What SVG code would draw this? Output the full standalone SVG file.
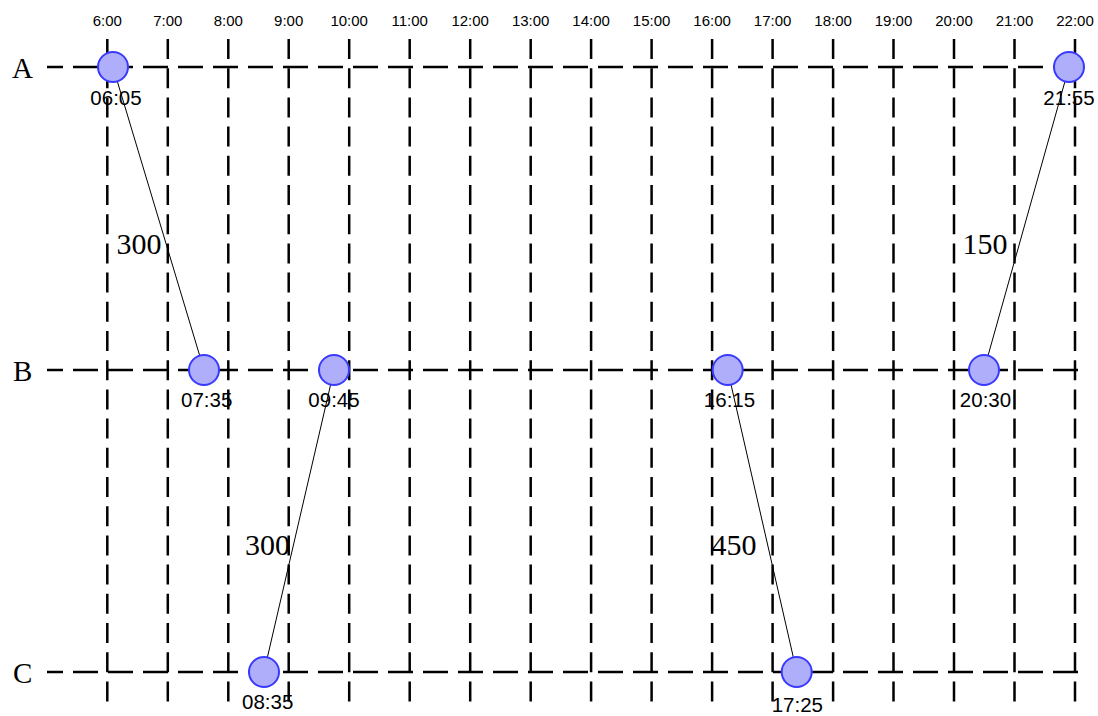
<svg xmlns="http://www.w3.org/2000/svg" width="1098" height="716" viewBox="0 0 1098 716">
<style>
.bg{fill:#ffffff}
.v{stroke:#000;stroke-width:2.5;stroke-dasharray:20 9.2;fill:none}
.h{stroke:#000;stroke-width:2.5;stroke-dasharray:25 10;stroke-dashoffset:9;fill:none}
.hr{font-family:"Liberation Sans",Arial,sans-serif;font-size:15px;text-anchor:middle;fill:#000}
.row{font-family:"Liberation Serif","Times New Roman",serif;font-size:29px;fill:#000}
.node circle{fill:#aeaefa;stroke:#3a3aff;stroke-width:2}
.node text{font-family:"Liberation Sans",Arial,sans-serif;font-size:20.5px;text-anchor:middle;fill:#000}
.edge line{stroke:#000;stroke-width:1}
.edge text{font-family:"Liberation Serif","Times New Roman",serif;font-size:30px;fill:#000}
</style>
<rect class="bg" x="0" y="0" width="1098" height="716"/>
<g id="grid">
<line class="v" x1="107.3" y1="39" x2="107.3" y2="702"/>
<line class="v" x1="167.8" y1="39" x2="167.8" y2="702"/>
<line class="v" x1="228.3" y1="39" x2="228.3" y2="702"/>
<line class="v" x1="288.7" y1="39" x2="288.7" y2="702"/>
<line class="v" x1="349.2" y1="39" x2="349.2" y2="702"/>
<line class="v" x1="409.7" y1="39" x2="409.7" y2="702"/>
<line class="v" x1="470.2" y1="39" x2="470.2" y2="702"/>
<line class="v" x1="530.7" y1="39" x2="530.7" y2="702"/>
<line class="v" x1="591.1" y1="39" x2="591.1" y2="702"/>
<line class="v" x1="651.6" y1="39" x2="651.6" y2="702"/>
<line class="v" x1="712.1" y1="39" x2="712.1" y2="702"/>
<line class="v" x1="772.6" y1="39" x2="772.6" y2="702"/>
<line class="v" x1="833.1" y1="39" x2="833.1" y2="702"/>
<line class="v" x1="893.5" y1="39" x2="893.5" y2="702"/>
<line class="v" x1="954" y1="39" x2="954" y2="702"/>
<line class="v" x1="1014.5" y1="39" x2="1014.5" y2="702"/>
<line class="v" x1="1075" y1="39" x2="1075" y2="702"/>
<line class="h" x1="47" y1="67" x2="1080" y2="67"/>
<line class="h" x1="47" y1="370" x2="1080" y2="370"/>
<line class="h" x1="47" y1="672" x2="1080" y2="672"/>
<text class="hr" x="107.3" y="26">6:00</text>
<text class="hr" x="167.8" y="26">7:00</text>
<text class="hr" x="228.3" y="26">8:00</text>
<text class="hr" x="288.7" y="26">9:00</text>
<text class="hr" x="349.2" y="26">10:00</text>
<text class="hr" x="409.7" y="26">11:00</text>
<text class="hr" x="470.2" y="26">12:00</text>
<text class="hr" x="530.7" y="26">13:00</text>
<text class="hr" x="591.1" y="26">14:00</text>
<text class="hr" x="651.6" y="26">15:00</text>
<text class="hr" x="712.1" y="26">16:00</text>
<text class="hr" x="772.6" y="26">17:00</text>
<text class="hr" x="833.1" y="26">18:00</text>
<text class="hr" x="893.5" y="26">19:00</text>
<text class="hr" x="954" y="26">20:00</text>
<text class="hr" x="1014.5" y="26">21:00</text>
<text class="hr" x="1075" y="26">22:00</text>
<text class="row" x="12" y="78">A</text>
<text class="row" x="13" y="381">B</text>
<text class="row" x="13" y="683">C</text>
</g>
<g id="connectors" class="edge">
<line x1="113" y1="67" x2="204" y2="370"/>
<line x1="334" y1="370" x2="264" y2="672"/>
<line x1="727.7" y1="370" x2="796.7" y2="672"/>
<line x1="984" y1="370" x2="1069" y2="67"/>
<text x="116.5" y="253.5">300</text>
<text x="245" y="555">300</text>
<text x="711.5" y="555">450</text>
<text x="962.5" y="254">150</text>
</g>
<g id="n0605" class="node"><circle cx="113" cy="67" r="15"/><text x="116" y="104.5">06:05</text></g>
<g id="n0735" class="node"><circle cx="204" cy="370" r="15"/><text x="206.7" y="407">07:35</text></g>
<g id="n0945" class="node"><circle cx="334" cy="370" r="15"/><text x="334" y="407">09:45</text></g>
<g id="n1615" class="node"><circle cx="727.7" cy="370" r="15"/><text x="729.5" y="407">16:15</text></g>
<g id="n2030" class="node"><circle cx="984" cy="370" r="15"/><text x="985.5" y="407">20:30</text></g>
<g id="n2155" class="node"><circle cx="1069" cy="67" r="15"/><text x="1069" y="104.5">21:55</text></g>
<g id="n0835" class="node"><circle cx="264" cy="672" r="15"/><text x="267.7" y="709">08:35</text></g>
<g id="n1725" class="node"><circle cx="796.7" cy="672" r="15"/><text x="797.3" y="712">17:25</text></g>
</svg>
